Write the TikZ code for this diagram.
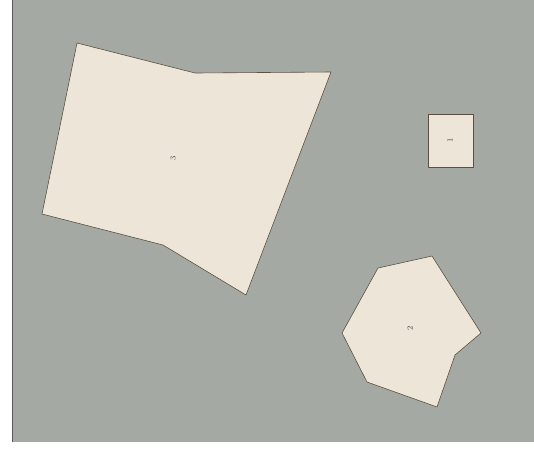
\documentclass[tikz,border=0pt]{standalone}
\definecolor{bg}{HTML}{A5A9A3}
\definecolor{poly}{HTML}{EDE5D8}
\definecolor{edge}{HTML}{5A5040}
\tikzset{region/.style={fill=poly,draw=edge,line width=0.6pt,line join=round},
lab/.style={font=\fontsize{8}{8}\selectfont,text=black!75,rotate=90,inner sep=0pt}}
\begin{document}
\begin{tikzpicture}[x=1pt,y=-1pt]
\useasboundingbox (0,0) rectangle (534,448);
\fill[white] (0,0) rectangle (534,448);
\fill[bg] (12,0) rectangle (534,442);
\draw[gray!70!black,line width=1pt] (12.5,0) -- (12.5,442);
\draw[region] (77,43) -- (195,73) -- (331,72) -- (246,295) -- (163,245) -- (42,214) -- cycle;
\draw[region] (428,114) rectangle (473,167);
\draw[region] (378,268) -- (432,256) -- (481,333) -- (455,355) -- (437,407) -- (367,382) -- (342,333) -- cycle;
\node[lab] (l3) at (173,158) {3};
\node[lab] (l1) at (450,140) {1};
\node[lab] (l2) at (410,328) {2};
\end{tikzpicture}
\end{document}
